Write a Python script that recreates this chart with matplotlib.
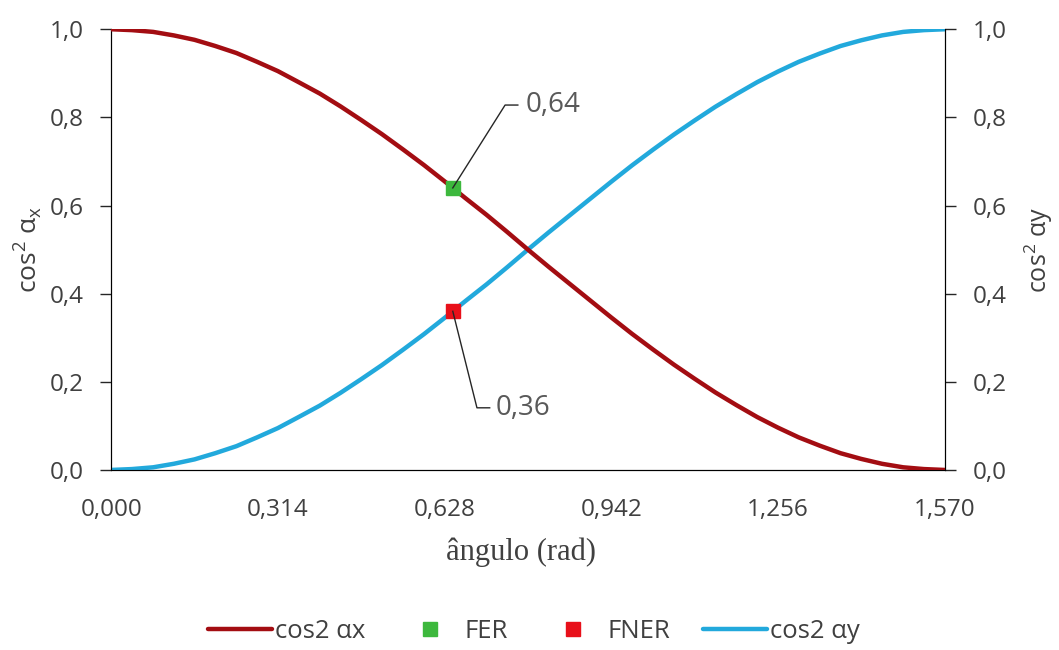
import matplotlib.pyplot as plt
from matplotlib.ticker import FuncFormatter

# Data
angles = [0.000, 0.039, 0.079, 0.118, 0.157, 0.196, 0.236, 0.275, 0.314, 0.353, 0.393,
          0.432, 0.471, 0.510, 0.550, 0.589, 0.628, 0.667, 0.707, 0.746, 0.785,
          0.824, 0.864, 0.903, 0.942, 0.981, 1.021, 1.060, 1.099, 1.138, 1.178,
          1.217, 1.256, 1.295, 1.335, 1.374, 1.413, 1.452, 1.492, 1.531, 1.570]
cos2_ax = [1.000, 0.998, 0.994, 0.986, 0.976, 0.962, 0.946, 0.926, 0.905, 0.880, 0.854,
           0.825, 0.794, 0.762, 0.727, 0.692, 0.655, 0.617, 0.579, 0.540, 0.500,
           0.461, 0.422, 0.384, 0.346, 0.309, 0.273, 0.239, 0.207, 0.176, 0.147,
           0.120, 0.096, 0.074, 0.055, 0.038, 0.025, 0.014, 0.006, 0.002, 0.000]
cos2_ay = [0.000, 0.002, 0.006, 0.014, 0.024, 0.038, 0.054, 0.074, 0.095, 0.120, 0.146,
           0.175, 0.206, 0.238, 0.273, 0.308, 0.345, 0.383, 0.421, 0.460, 0.500,
           0.539, 0.578, 0.616, 0.654, 0.691, 0.727, 0.761, 0.793, 0.824, 0.853,
           0.880, 0.904, 0.926, 0.945, 0.962, 0.975, 0.986, 0.994, 0.998, 1.000]
fer_x, fer_y = [0.6435], [0.64]
fner_x, fner_y = [0.6435], [0.36]
xticks = [0.0, 0.314, 0.628, 0.942, 1.256, 1.570]
yticks = [0.0, 0.2, 0.4, 0.6, 0.8, 1.0]

plt.rcParams['font.family'] = ['Open Sans', 'DejaVu Sans']
plt.rcParams['mathtext.fontset'] = 'dejavusans'

red = '#A30D12'
blue = '#22A9DC'
txt = '#404040'

fig = plt.figure(figsize=(10.59, 6.5), dpi=100)
ax = fig.add_axes([0.105, 0.277, 0.787, 0.678])
ax2 = ax.twinx()

l1, = ax.plot(angles, cos2_ax, color=red, lw=3.2, solid_capstyle='round', label='cos2 αx', zorder=3)
l4, = ax2.plot(angles, cos2_ay, color=blue, lw=3.2, solid_capstyle='round', label='cos2 αy', zorder=3)
p2, = ax.plot(fer_x, fer_y, 's', color='#3DB83D', ms=10.5, label='FER', zorder=5)
p3, = ax.plot(fner_x, fner_y, 's', color='#E8101A', ms=10.5, label='FNER', zorder=2)
ax.set_zorder(ax2.get_zorder() + 1)
ax.patch.set_visible(False)

for a in (ax, ax2):
    a.set_xlim(0, 1.570)
    a.set_ylim(0, 1.0)
    a.set_yticks(yticks)
    a.yaxis.set_major_formatter(FuncFormatter(lambda v, p: f'{v:.1f}'.replace('.', ',')))
    a.spines['top'].set_visible(False)
    a.tick_params(axis='y', length=8, width=1, color='#262626', labelsize=17.5,
                  labelcolor=txt, pad=12)

ax.set_xticks(xticks)
ax.xaxis.set_major_formatter(FuncFormatter(lambda v, p: f'{v:.3f}'.replace('.', ',')))
ax.tick_params(axis='x', length=0, labelsize=17.5, labelcolor=txt, pad=20)
ax2.tick_params(axis='x', length=0)

ax.set_xlabel('ângulo (rad)', family='Liberation Serif', fontsize=22, color=txt)
ax.xaxis.set_label_coords(0.4916, -0.186)
ax.xaxis.label.set_va('center')
ax.set_ylabel(r'cos$^\mathregular{2}$ α$_\mathregular{x}$', fontsize=19, color=txt)
ax.yaxis.set_label_coords(-0.0995, 0.5)
ax.yaxis.label.set_va('center')
ax2.set_ylabel(r'cos$^\mathregular{2}$ αy', fontsize=18, color=txt)
ax2.yaxis.set_label_coords(1.1135, 0.5)
ax2.yaxis.label.set_va('center')

# callouts with elbow leaders
ax.plot([fer_x[0], 0.742, 0.766], [fer_y[0], 0.828, 0.828], color='#262626', lw=1, zorder=6)
ax.text(0.781, 0.828, '0,64', fontsize=20, color='#595959', va='center', ha='left')
ax.plot([fner_x[0], 0.689, 0.713], [fner_y[0], 0.141, 0.141], color='#262626', lw=1, zorder=6)
ax.text(0.725, 0.141, '0,36', fontsize=20, color='#595959', va='center', ha='left')

fig.legend(handles=[l1, p2, p3, l4], loc='center', bbox_to_anchor=(0.504, 0.028), ncol=4,
           frameon=False, fontsize=18.5, handlelength=2.5, columnspacing=1.25,
           handletextpad=0.12, labelcolor=txt, borderpad=0.2)

fig.savefig('out.png', dpi=100)
